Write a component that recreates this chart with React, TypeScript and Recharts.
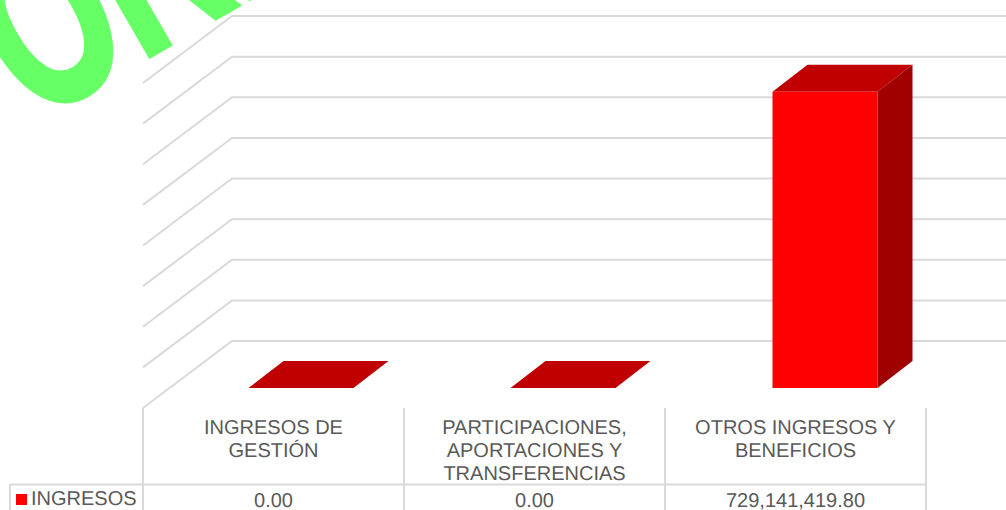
import { Bar, BarChart, CartesianGrid, Legend, XAxis, YAxis } from 'recharts'

const CATEGORIES = ['INGRESOS DE GESTIÓN', 'PARTICIPACIONES, APORTACIONES Y TRANSFERENCIAS', 'OTROS INGRESOS Y BENEFICIOS']
const CATEGORY_LINES = [
  ['INGRESOS DE', 'GESTIÓN'],
  ['PARTICIPACIONES,', 'APORTACIONES Y', 'TRANSFERENCIAS'],
  ['OTROS INGRESOS Y', 'BENEFICIOS'],
]
const INGRESOS = [0, 0, 729141419.8]
const VALUE_TICKS = [0, 100000000, 200000000, 300000000, 400000000, 500000000, 600000000, 700000000, 800000000]

const data = CATEGORIES.map((name, i) => ({ name, ingresos: INGRESOS[i] }))

const GRID = '#d9d9d9'
const TEXT = '#595959'
const FONT = '"Liberation Sans", Arial, sans-serif'
// 3D offsets measured on the picture
const DX = 35
const DY = 27
// table columns are a bit narrower than the bar spacing
const COL = 261
const TABLE_LEFT = 143

function Bar3D({ x, y, width, height }: any) {
  const top = `${x},${y} ${x + DX},${y - DY} ${x + width + DX},${y - DY} ${x + width},${y}`
  return (
    <g>
      <polygon points={top} fill="#c00000" />
      {height > 0 && (
        <>
          <polygon
            points={`${x + width},${y} ${x + width + DX},${y - DY} ${x + width + DX},${y + height - DY} ${x + width},${y + height}`}
            fill="#a00000"
          />
          <rect x={x} y={y} width={width} height={height} fill="#ff0000" />
        </>
      )}
    </g>
  )
}

function WallLine({ y1 }: any) {
  return (
    <polyline
      points={`143,${y1 + 20} 232,${y1 - 47} 1006,${y1 - 47}`}
      fill="none"
      stroke={GRID}
      strokeWidth={2}
    />
  )
}

function TableTick({ index }: any) {
  const left = TABLE_LEFT + index * COL
  const cx = left + COL / 2
  const lines = CATEGORY_LINES[index] ?? []
  return (
    <g fontFamily={FONT} fontSize={20} fill={TEXT} textAnchor="middle" textRendering="geometricPrecision">
      <line x1={left} y1={408} x2={left} y2={510} stroke={GRID} strokeWidth={2} />
      <line x1={left + COL} y1={408} x2={left + COL} y2={510} stroke={GRID} strokeWidth={2} />
      <line x1={left} y1={484.5} x2={left + COL} y2={484.5} stroke={GRID} strokeWidth={2} />
      {index === 0 && (
        <>
          <line x1={10} y1={484.5} x2={left} y2={484.5} stroke={GRID} strokeWidth={2} />
          <line x1={10} y1={484} x2={10} y2={510} stroke={GRID} strokeWidth={2} />
        </>
      )}
      {lines.map((l: string, i: number) => (
        <text key={l} x={cx} y={434 + i * 23}>{l}</text>
      ))}
      <text x={cx} y={506.5}>
        {INGRESOS[index].toLocaleString('en-US', { minimumFractionDigits: 2, maximumFractionDigits: 2 })}
      </text>
    </g>
  )
}

export default function App() {
  return (
    <div style={{ position: 'absolute', left: 0, top: 0, width: 1006, height: 510, overflow: 'hidden', background: '#fff' }}>
      <BarChart
        width={1006}
        height={510}
        data={data}
        margin={{ top: 63, right: 50.5, bottom: 0, left: 169.5 }}
      >
        <CartesianGrid horizontal={(p: any) => <WallLine key={p.key ?? p.index} {...p} />} vertical={false} />
        <XAxis
          dataKey="name"
          height={122}
          interval={0}
          axisLine={false}
          tickLine={false}
          tick={(p: any) => <TableTick key={p.index} {...p} />}
        />
        <YAxis hide width={0} domain={[0, 800000000]} ticks={VALUE_TICKS} />
        <Legend
          align="center"
          verticalAlign="middle"
          iconType="square"
          iconSize={11}
          wrapperStyle={{ position: 'absolute', left: 16, top: 488.5, width: 125, height: 21, margin: 0, fontFamily: FONT, fontSize: 20, lineHeight: '21px', textAlign: 'left', whiteSpace: 'nowrap', textRendering: 'geometricPrecision' }}
          formatter={(v: any) => <span style={{ color: TEXT }}>{v}</span>}
        />
        <Bar
          dataKey="ingresos"
          name="INGRESOS"
          fill="#ff0000"
          barSize={105}
          isAnimationActive={false}
          shape={(p: any) => <Bar3D {...p} />}
        />
      </BarChart>
      <svg width={1006} height={510} style={{ position: 'absolute', left: 0, top: 0, pointerEvents: 'none' }}>
        <g transform="translate(74,99) rotate(-30) scale(0.8,1.22)">
          <text x={-60} y={0} fontFamily={FONT} fontWeight="bold" fontSize={200} fill="#66ff66" stroke="#66ff66" strokeWidth={5}>ORI</text>
        </g>
      </svg>
    </div>
  )
}
